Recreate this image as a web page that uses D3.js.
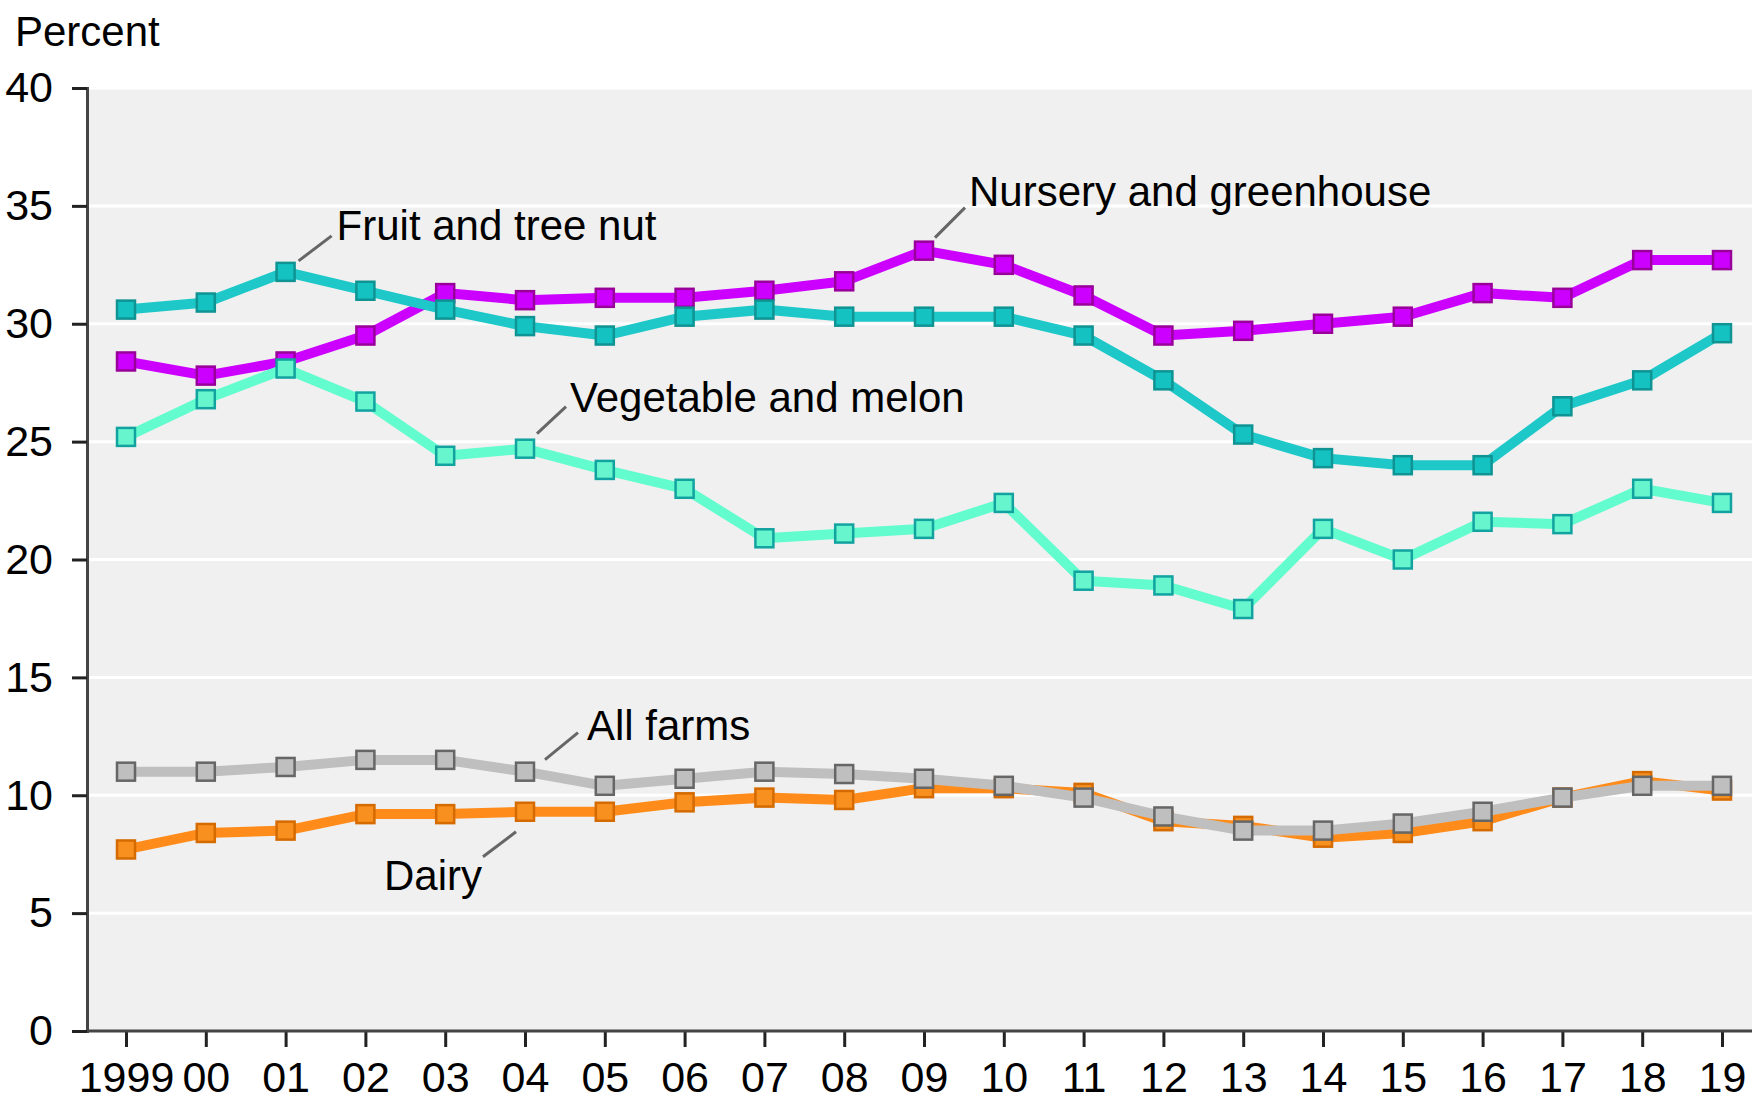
<!DOCTYPE html>
<html><head><meta charset="utf-8">
<script src="https://cdn.jsdelivr.net/npm/d3@7"></script>
<style>body{margin:0;background:#fff}svg{display:block}text{font-family:"Liberation Sans",Arial,sans-serif}</style>
</head><body>
<svg id="c" width="1752" height="1101"></svg>
<script>
const years = [1999,2000,2001,2002,2003,2004,2005,2006,2007,2008,2009,2010,2011,2012,2013,2014,2015,2016,2017,2018,2019];
const yearLabels = ["1999","00","01","02","03","04","05","06","07","08","09","10","11","12","13","14","15","16","17","18","19"];
const yTicks = [0,5,10,15,20,25,30,35,40];
const nursery = [28.4,27.8,28.4,29.5,31.3,31.0,31.1,31.1,31.4,31.8,33.1,32.5,31.2,29.5,29.7,30.0,30.3,31.3,31.1,32.7,32.7];
const fruit = [30.6,30.9,32.2,31.4,30.6,29.9,29.5,30.3,30.6,30.3,30.3,30.3,29.5,27.6,25.3,24.3,24.0,24.0,26.5,27.6,29.6];
const vegetable = [25.2,26.8,28.1,26.7,24.4,24.7,23.8,23.0,20.9,21.1,21.3,22.4,19.1,18.9,17.9,21.3,20.0,21.6,21.5,23.0,22.4];
const dairy = [7.7,8.4,8.5,9.2,9.2,9.3,9.3,9.7,9.9,9.8,10.3,10.3,10.1,8.9,8.7,8.2,8.4,8.9,9.9,10.6,10.2];
const allFarms = [11.0,11.0,11.2,11.5,11.5,11.0,10.4,10.7,11.0,10.9,10.7,10.4,9.9,9.1,8.5,8.5,8.8,9.3,9.9,10.4,10.4];

const series = [
  {name:"Nursery and greenhouse", values:nursery, line:"#cc00ff", fill:"#cc00ff", stroke:"#990099"},
  {name:"Fruit and tree nut", values:fruit, line:"#1ec8c8", fill:"#14c2c2", stroke:"#0f9393"},
  {name:"Vegetable and melon", values:vegetable, line:"#62fcce", fill:"#66f5cc", stroke:"#12a3a0"},
  {name:"Dairy", values:dairy, line:"#ff8c1a", fill:"#f7901e", stroke:"#d46a00"},
  {name:"All farms", values:allFarms, line:"#bfbfbf", fill:"#bfbfbf", stroke:"#666666"}
];
// annotation: series name, anchor year, leader offsets, text offsets
const labels = [
  {name:"Fruit and tree nut", year:2001, l:[13,-11,46,-36], t:[51,-32], anchor:"start"},
  {name:"Nursery and greenhouse", year:2009, l:[11,-13,41,-43], t:[45,-45], anchor:"start"},
  {name:"Vegetable and melon", year:2004, l:[12,-15,41,-42], t:[45,-37], anchor:"start"},
  {name:"All farms", year:2004, l:[20,-12,53,-39], t:[62,-32], anchor:"start"},
  {name:"Dairy", year:2004, l:[-9,20,-42,45], t:[-43,78], anchor:"end"}
];

const svg = d3.select("#c");
const plot = {left:87, right:1752, top:88, bottom:1031};
const x = d3.scaleLinear().domain([1999,2019]).range([126,1722]);
const y = d3.scaleLinear().domain([0,40]).range([plot.bottom, plot.top]);

svg.append("rect").attr("x",plot.left).attr("y",plot.top)
  .attr("width",plot.right-plot.left).attr("height",plot.bottom-plot.top).attr("fill","#f0f0f0");

// gridlines
svg.append("g").selectAll("line").data(yTicks.filter(d=>d>0)).join("line")
  .attr("x1",plot.left).attr("x2",plot.right)
  .attr("y1",d=>y(d)).attr("y2",d=>y(d))
  .attr("stroke","#fff").attr("stroke-width",3);

// y axis
const yAxis = svg.append("g").attr("transform",`translate(${plot.left},0)`)
  .call(d3.axisLeft(y).tickValues(yTicks).tickSize(15).tickPadding(19).tickFormat(d3.format("d")));
yAxis.select(".domain").attr("stroke","#444").attr("stroke-width",3);
yAxis.selectAll(".tick line").attr("stroke","#222").attr("stroke-width",3);
yAxis.selectAll("text").attr("font-size",43).attr("fill","#000").attr("font-family","Liberation Sans, Arial, sans-serif");

// x axis
const xAxis = svg.append("g").attr("transform",`translate(0,${plot.bottom})`)
  .call(d3.axisBottom(x).tickValues(years).tickSize(16).tickPadding(14).tickFormat((d,i)=>yearLabels[i]));
xAxis.select(".domain").remove();
xAxis.append("line").attr("x1",plot.left).attr("x2",plot.right).attr("y1",0).attr("y2",0)
  .attr("stroke","#444").attr("stroke-width",3);
xAxis.selectAll(".tick line").attr("stroke","#222").attr("stroke-width",3);
xAxis.selectAll("text").attr("font-size",43).attr("fill","#000").attr("font-family","Liberation Sans, Arial, sans-serif");

svg.append("text").attr("x",15).attr("y",46).attr("font-size",42).text("Percent");

const lineGen = d3.line().x((d,i)=>x(years[i])).y(d=>y(d));
const ms = 18;
series.forEach(s=>{
  const g = svg.append("g");
  g.append("path").datum(s.values).attr("d",lineGen).attr("fill","none")
    .attr("stroke",s.line).attr("stroke-width",10).attr("stroke-linejoin","round");
  g.selectAll("rect").data(s.values).join("rect")
    .attr("x",(d,i)=>x(years[i])-ms/2).attr("y",d=>y(d)-ms/2)
    .attr("width",ms).attr("height",ms)
    .attr("fill",s.fill).attr("stroke",s.stroke).attr("stroke-width",2.5);
});

labels.forEach(lb=>{
  const s = series.find(q=>q.name===lb.name);
  const i = years.indexOf(lb.year);
  const px = x(lb.year), py = y(s.values[i]);
  svg.append("line").attr("x1",px+lb.l[0]).attr("y1",py+lb.l[1]).attr("x2",px+lb.l[2]).attr("y2",py+lb.l[3])
    .attr("stroke","#666").attr("stroke-width",3);
  svg.append("text").attr("x",px+lb.t[0]).attr("y",py+lb.t[1]).attr("font-size",42)
    .attr("text-anchor",lb.anchor).attr("fill","#000").text(lb.name);
});
</script>
</body></html>
